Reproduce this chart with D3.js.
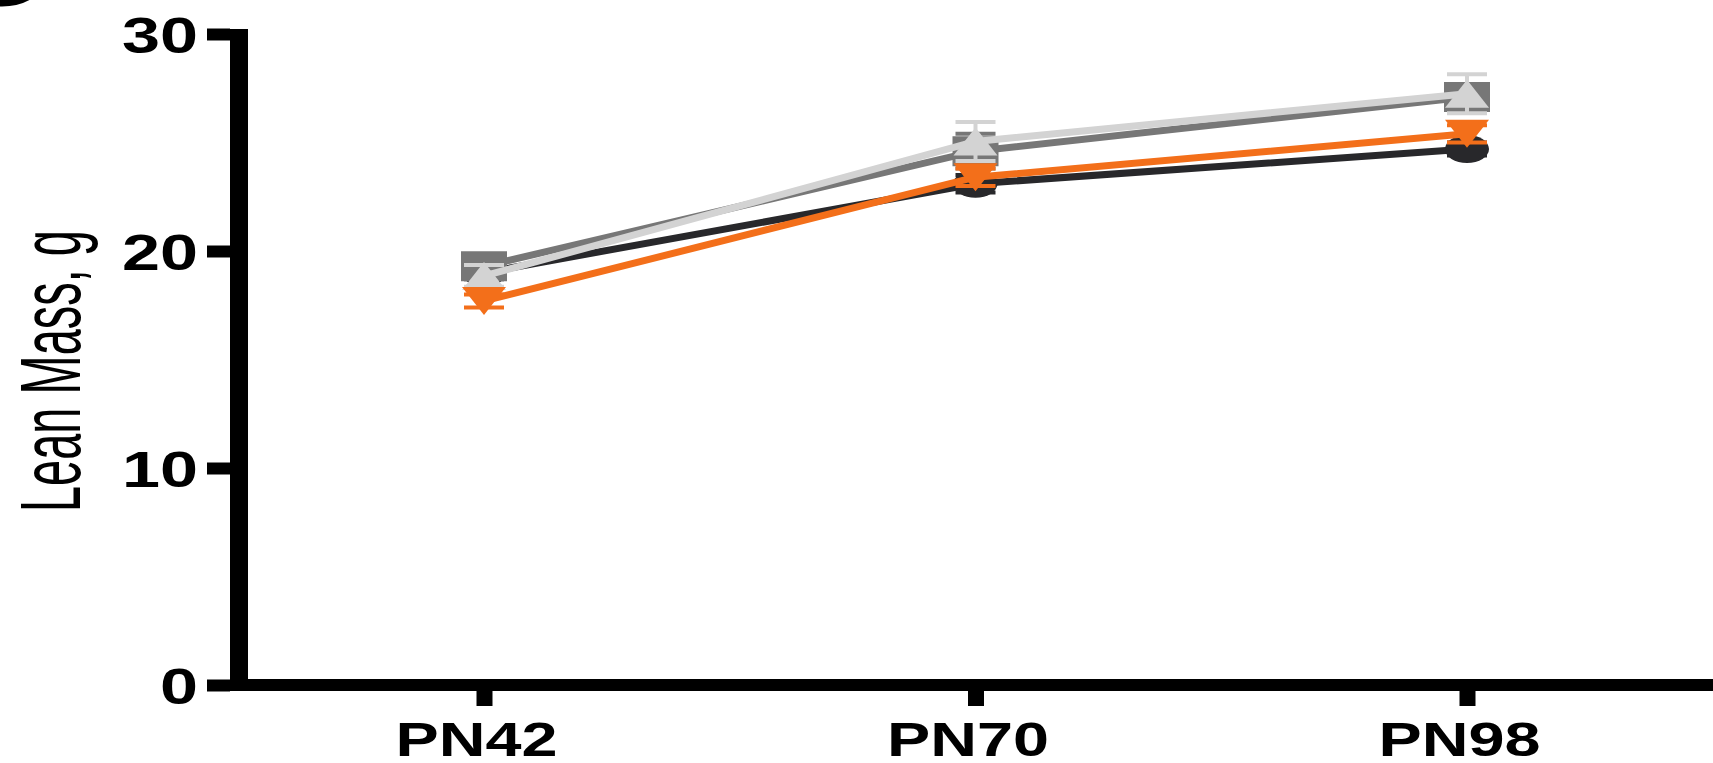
<!DOCTYPE html>
<html>
<head>
<meta charset="UTF-8">
<title>Lean Mass</title>
<script src="https://cdn.jsdelivr.net/npm/d3@7/dist/d3.min.js"></script>
<style>
  body { margin: 0; background: #fff; }
  svg { display: block; }
  text { font-family: "Liberation Sans", Arial, sans-serif; fill: #000; }
</style>
</head>
<body>
<svg id="chart" width="1713" height="763"></svg>
<script>
// data
var categories = ["PN42", "PN70", "PN98"];
var yTicks = [0, 10, 20, 30];
var blackVals = [19.0, 23.1, 24.7];
var blackErr = [0.3, 0.4, 0.3];
var darkVals = [19.3, 24.6, 27.1];
var darkErr = [0.4, 0.8, 0.6];
var lightVals = [18.85, 25.05, 27.25];
var lightErr = [0.5, 0.9, 0.9];
var orangeVals = [17.7, 23.4, 25.4];
var orangeErr = [0.3, 0.4, 0.4];

var series = [
  { name: "black", vals: blackVals, err: blackErr, color: "#28282b", shape: "circle" },
  { name: "darkgray", vals: darkVals, err: darkErr, color: "#777777", shape: "square" },
  { name: "lightgray", vals: lightVals, err: lightErr, color: "#d3d3d3", shape: "triUp" },
  { name: "orange", vals: orangeVals, err: orangeErr, color: "#f36f1a", shape: "triDown" }
];

var svg = d3.select("#chart");

var x = d3.scalePoint().domain(categories).range([484, 1467]);
var y = d3.scaleLinear().domain([0, 30]).range([685, 34]);

// panel letter fragment top-left
svg.append("ellipse")
  .attr("cx", 2).attr("cy", -26).attr("rx", 42).attr("ry", 29)
  .attr("fill", "none").attr("stroke", "#000").attr("stroke-width", 7);

// y axis
var yAxis = d3.axisLeft(y).tickValues(yTicks).tickSize(23).tickPadding(10);
var gy = svg.append("g").attr("transform", "translate(230,0)").call(yAxis);
gy.select(".domain").remove();
gy.selectAll(".tick line").attr("stroke", "#000").attr("stroke-width", 12);
gy.selectAll(".tick text")
  .attr("x", -32)
  .attr("dy", "0.36em")
  .style("font-size", "50px")
  .style("font-weight", "bold")
  .attr("textLength", function(d) { return String(d).length * 38; })
  .attr("lengthAdjust", "spacingAndGlyphs");

// x axis
var xAxis = d3.axisBottom(x).tickSize(15).tickPadding(0);
var gx = svg.append("g").attr("transform", "translate(0,691)").call(xAxis);
gx.select(".domain").remove();
gx.selectAll(".tick line").attr("stroke", "#000").attr("stroke-width", 16);
gx.selectAll(".tick text")
  .attr("x", -8)
  .attr("y", 65)
  .attr("dy", 0)
  .style("font-size", "49px")
  .style("font-weight", "bold")
  .attr("textLength", 162)
  .attr("lengthAdjust", "spacingAndGlyphs");

// axis lines
svg.append("line")
  .attr("x1", 239).attr("x2", 239)
  .attr("y1", y(30) - 5).attr("y2", y(0) + 6)
  .attr("stroke", "#000").attr("stroke-width", 18);
svg.append("line")
  .attr("x1", 230).attr("x2", 1713)
  .attr("y1", y(0)).attr("y2", y(0))
  .attr("stroke", "#000").attr("stroke-width", 12);

// y axis title
svg.append("text")
  .attr("transform", "translate(80," + 371 + ") rotate(-90)")
  .attr("text-anchor", "middle")
  .style("font-size", "86px")
  .attr("textLength", 282)
  .attr("lengthAdjust", "spacingAndGlyphs")
  .text("Lean Mass, g");

// markers
function markerPath(shape) {
  var p = d3.path();
  var hw = 22, hh = 14;
  if (shape === "circle") {
    return "M" + (-hw) + ",0A" + hw + "," + hh + " 0 1,0 " + hw + ",0A" + hw + "," + hh + " 0 1,0 " + (-hw) + ",0Z";
  }
  if (shape === "square") {
    p.rect(-23, -15, 46, 30);
  } else if (shape === "triUp") {
    p.moveTo(0, -hh); p.lineTo(hw, hh); p.lineTo(-hw, hh); p.closePath();
  } else {
    p.moveTo(-hw, -hh); p.lineTo(hw, -hh); p.lineTo(0, hh); p.closePath();
  }
  return p.toString();
}

var line = d3.line()
  .x(function(d, i) { return x(categories[i]); })
  .y(function(d) { return y(d); });

var gs = svg.selectAll("g.series").data(series).enter().append("g").attr("class", "series");

gs.each(function(s) {
  var g = d3.select(this);
  // error bars
  s.vals.forEach(function(v, i) {
    var cx = x(categories[i]);
    g.append("line")
      .attr("x1", cx).attr("x2", cx)
      .attr("y1", y(v - s.err[i])).attr("y2", y(v + s.err[i]))
      .attr("stroke", s.color).attr("stroke-width", 4);
    [v - s.err[i], v + s.err[i]].forEach(function(e) {
      g.append("line")
        .attr("x1", cx - 20).attr("x2", cx + 20)
        .attr("y1", y(e)).attr("y2", y(e))
        .attr("stroke", s.color).attr("stroke-width", 4);
    });
  });
  g.append("path")
    .attr("d", line(s.vals))
    .attr("fill", "none")
    .attr("stroke", s.color)
    .attr("stroke-width", 7);
  g.selectAll("path.mk").data(s.vals).enter().append("path")
    .attr("class", "mk")
    .attr("d", markerPath(s.shape))
    .attr("transform", function(d, i) { return "translate(" + x(categories[i]) + "," + y(d) + ")"; })
    .attr("fill", s.color);
});
</script>
</body>
</html>
